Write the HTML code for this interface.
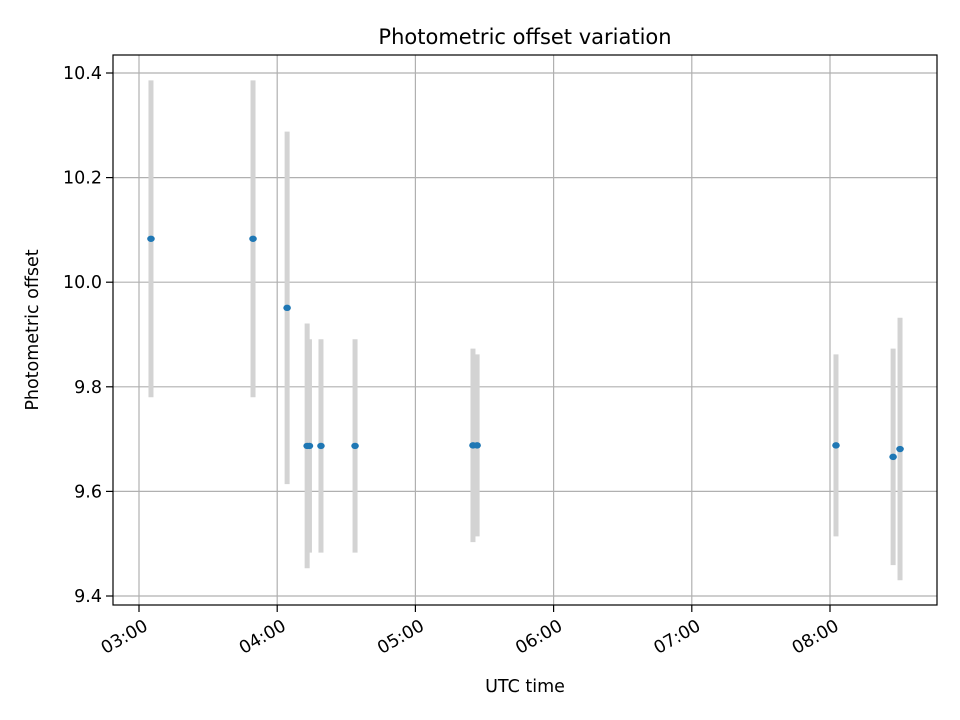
<!DOCTYPE html>
<html><head><meta charset="utf-8"><style>body{margin:0;background:#fff}svg{display:block;font-family:"DejaVu Sans","Liberation Sans",sans-serif}</style></head>
<body>
<svg id="c" width="960" height="720"></svg>
<script>
// times in minutes after 00:00 UTC
const times=[185.2,229.5,244.3,253.0,254.0,259.0,273.8,325.0,326.8,482.6,507.4,510.4];
const values=[10.083,10.083,9.951,9.687,9.687,9.687,9.687,9.688,9.688,9.688,9.666,9.681];
const errors=[0.303,0.303,0.337,0.234,0.204,0.204,0.204,0.185,0.174,0.174,0.207,0.251];
const yTicks=[9.4,9.6,9.8,10.0,10.2,10.4];
const xTicks=[180,240,300,360,420,480];
const xTickLabels=["03:00","04:00","05:00","06:00","07:00","08:00"];
const L=113,R=937,T=55,B=605;
const xs=m=>139+(m-180)*138.2/60;
const ys=v=>73+(10.4-v)*523;
const NS="http://www.w3.org/2000/svg",svg=document.getElementById('c');
function mk(t,a,p){const e=document.createElementNS(NS,t);for(const k in a)e.setAttribute(k,a[k]);(p||svg).appendChild(e);return e;}
let e;
e=mk('text',{x:525,y:44,'text-anchor':'middle','font-size':'21'});e.textContent='Photometric offset variation';


yTicks.forEach(v=>{const y=ys(v);
e=mk('line',{x1:L,x2:R,y1:y,y2:y,stroke:'#b0b0b0','stroke-width':1.2});


mk('line',{x1:L-7,x2:L,y1:y,y2:y,stroke:'#000','stroke-width':1.2});
e=mk('text',{x:L-11,y:y+6,'text-anchor':'end','font-size':'17.5'});e.textContent=v.toFixed(1);

});
xTicks.forEach((m,i)=>{const x=xs(m);
e=mk('line',{x1:x,x2:x,y1:T,y2:B,stroke:'#b0b0b0','stroke-width':1.2});


mk('line',{x1:x,x2:x,y1:B,y2:B+7,stroke:'#000','stroke-width':1.2});
const ax=x+3,ay=B+12;
e=mk('text',{x:ax,y:ay,dy:'0.8em','text-anchor':'end','font-size':'17.5',transform:`rotate(-30 ${ax} ${ay})`});e.textContent=xTickLabels[i];

});
times.forEach((m,i)=>{const x=xs(m);
e=mk('line',{x1:x,x2:x,y1:ys(values[i]+errors[i]),y2:ys(values[i]-errors[i]),stroke:'#d3d3d3','stroke-width':5});

});
times.forEach((m,i)=>{
e=mk('ellipse',{cx:xs(m),cy:ys(values[i]),rx:3.8,ry:3.2,fill:'#1f77b4'});

});
e=mk('rect',{x:L,y:T,width:R-L,height:B-T,fill:'none',stroke:'#000','stroke-width':1.2});


e=mk('text',{x:525,y:692,'text-anchor':'middle','font-size':'17.5'});e.textContent='UTC time';


e=mk('text',{x:38,y:330,'text-anchor':'middle','font-size':'17.5',transform:'rotate(-90 38 330)'});e.textContent='Photometric offset';


</script>
</body></html>
